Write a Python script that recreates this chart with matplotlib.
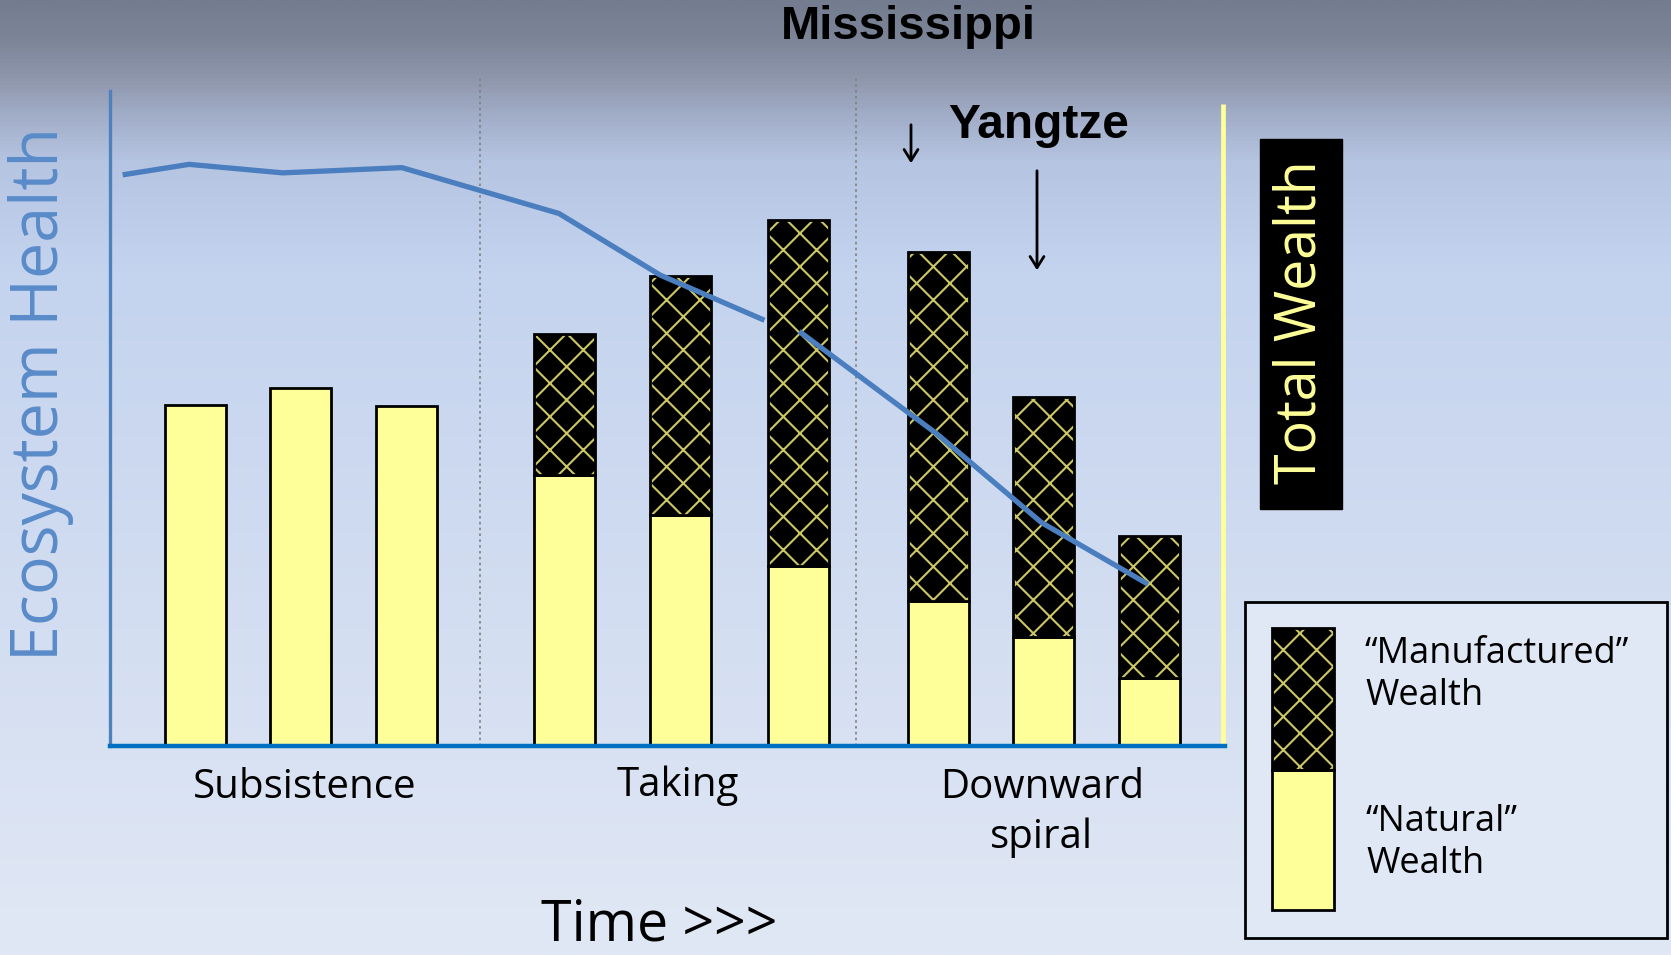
import numpy as np
import matplotlib
matplotlib.use("Agg")
import matplotlib.pyplot as plt
from matplotlib.patches import Rectangle
from matplotlib.colors import LinearSegmentedColormap

# --- data ---
stages = ["Subsistence", "Taking", "Downward\nspiral"]
bar_x = [1.0, 2.0, 3.0, 4.5, 5.6, 6.72, 8.05, 9.05, 10.05]
natural = [52.0, 54.6, 51.9, 41.3, 35.3, 27.5, 22.1, 16.6, 10.4]
manufactured = [0, 0, 0, 21.6, 36.4, 52.8, 53.3, 36.7, 21.6]
# ecosystem health drawn in two pieces (gap behind the tallest bar)
health_x1 = [0.31, 0.94, 1.83, 2.96, 4.45, 5.41, 6.40]
health_y1 = [87.2, 88.8, 87.5, 88.3, 81.3, 71.9, 65.0]
health_x2 = [6.73, 8.04, 9.03, 10.04]
health_y2 = [63.3, 47.6, 34.1, 24.7]
stage_x = [3.70, 7.27]

W, H = 1671, 955
comic = ["Open Sans", "DejaVu Sans"]
yellow = "#ffff99"
hatch_col = "#cdc865"
plt.rcParams["hatch.linewidth"] = 1.5

fig = plt.figure(figsize=(W / 100, H / 100), dpi=100)

# background gradient, pixel coordinates
bg = fig.add_axes([0, 0, 1, 1], zorder=0)
bg.set_xlim(0, W)
bg.set_ylim(H, 0)
bg.axis("off")
stops = [(0, "#747c90"), (40, "#7d8599"), (80, "#9098ae"), (120, "#a4b0cb"),
         (160, "#b5c4e1"), (270, "#c4d3ee"), (600, "#d2ddf1"), (955, "#e1e8f5")]
cmap = LinearSegmentedColormap.from_list("bg", [(p / H, c) for p, c in stops])
grad = np.linspace(0, 1, 955).reshape(-1, 1)
bg.imshow(grad, cmap=cmap, aspect="auto", extent=[0, W, H, 0], zorder=0)

# main chart axes
ax = fig.add_axes([110 / W, (H - 746) / H, (1225 - 110) / W, (746 - 91) / H], zorder=1)
ax.patch.set_alpha(0)
ax.set_xlim(0.19, 10.77)
ax.set_ylim(0, 100)
ax.set_xticks([])
ax.set_yticks([])
for s in ["top", "right"]:
    ax.spines[s].set_visible(False)
ax.spines["left"].set_color("#4f81bd")
ax.spines["left"].set_linewidth(2.4)
ax.spines["bottom"].set_color("#0070c0")
ax.spines["bottom"].set_linewidth(3.2)

ax.vlines(stage_x, 0, 102, colors="#808080", linestyles=(0, (1.5, 2)), lw=1.2, clip_on=False)
ax.vlines(10.75, 0, 98, colors=yellow, lw=3.4, clip_on=False)

w = 0.58
ax.bar(bar_x, natural, w, color=yellow, edgecolor="black", lw=2, zorder=2)
ax.bar(bar_x, manufactured, w, bottom=natural, color="black", edgecolor=hatch_col,
       hatch="x", lw=0, zorder=2)
top = [m if m > 0 else np.nan for m in manufactured]
ax.bar(bar_x, top, w, bottom=natural, fill=False, edgecolor="black", lw=2, zorder=2)

ax.plot(health_x1, health_y1, color="#4a7ebf", lw=3.8, solid_capstyle="butt", zorder=3)
ax.plot(health_x2, health_y2, color="#4a7ebf", lw=3.8, solid_capstyle="butt", zorder=3)

# texts and annotations (pixel coordinates)
bg.text(908, 27, "Mississippi", ha="center", va="center", fontsize=34,
        fontweight="bold", family="Liberation Sans")
bg.text(948, 126, "Yangtze", ha="left", va="center", fontsize=34.5,
        fontweight="bold", family="Liberation Sans")
bg.annotate("", xy=(911, 166), xytext=(911, 122),
            arrowprops=dict(arrowstyle="->,head_length=0.8,head_width=0.5", lw=2, color="black"))
bg.annotate("", xy=(1037, 273), xytext=(1037, 168),
            arrowprops=dict(arrowstyle="->,head_length=0.8,head_width=0.5", lw=2, color="black"))

bg.text(41, 394, "Ecosystem Health", rotation=90, ha="center", va="center",
        fontsize=46.5, color="#5a8bc9", family=comic)

bg.add_patch(Rectangle((1260, 139), 82, 370, color="black", zorder=2))
bg.text(1301, 322, "Total Wealth", rotation=90, ha="center", va="center",
        fontsize=40, color=yellow, family=comic, zorder=3)

label_pos = [(305, 788), (678, 786), (1042, 813)]
for lab, (px, py) in zip(stages, label_pos):
    bg.text(px, py, lab, ha="center", va="center", fontsize=29, family=comic,
            linespacing=1.3)
bg.text(659, 926, "Time >>>", ha="center", va="center", fontsize=40, family=comic)

# legend box
bg.add_patch(Rectangle((1245, 602), 422, 336, facecolor="#e0e7f5", edgecolor="black",
                       lw=2, zorder=2))
bg.add_patch(Rectangle((1272, 628), 62, 142, facecolor="black", edgecolor=hatch_col,
                       hatch="x", lw=0, zorder=3))
bg.add_patch(Rectangle((1272, 628), 62, 142, fill=False, edgecolor="black", lw=2, zorder=4))
bg.add_patch(Rectangle((1272, 770), 62, 140, facecolor=yellow, edgecolor="black",
                       lw=2, zorder=3))
bg.text(1365, 675, "\u201cManufactured\u201d\nWealth", ha="left", va="center",
        fontsize=26, family=comic, linespacing=1.2, zorder=4)
bg.text(1366, 843, "\u201cNatural\u201d\nWealth", ha="left", va="center",
        fontsize=26, family=comic, linespacing=1.2, zorder=4)

fig.savefig("out.png", dpi=100)
